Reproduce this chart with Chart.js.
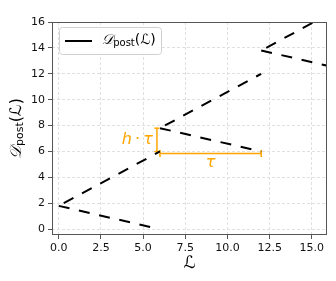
<!DOCTYPE html>
<html>
<head>
<meta charset="utf-8">
<script src="https://cdn.jsdelivr.net/npm/chart.js@4.4.0/dist/chart.umd.min.js"></script>
<style>
  html, body { margin: 0; padding: 0; background: #fff; }
  canvas { display: block; }
</style>
</head>
<body>
<canvas id="chart" width="336" height="281"></canvas>
<script>
// 各区間の始点（ジャンプ直後）
const startX = [0, 6, 12];
const startY = [1.8, 7.8, 13.8];
// 上昇する破線の終点
const riseEndX = [6, 12, 16];
const riseEndY = [6.0, 12.0, 16.6];
// 下降する破線の終点
const fallEndX = [5.42, 12, 16];
const fallEndY = [0.17, 6.0, 12.6];
// 注釈 h·τ（縦）と τ（横）
const hTauX = [5.82, 5.82];
const hTauY = [6.0, 7.8];
const tauX = [6, 12];
const tauY = [5.85, 5.85];

const xTicks = [0, 2.5, 5, 7.5, 10, 12.5, 15];
const yTicks = [0, 2, 4, 6, 8, 10, 12, 14, 16];

const ORANGE = '#FFA500';
const SANS = '"DejaVu Sans", sans-serif';

const datasets = [];
for (let i = 0; i < startX.length; i++) {
    // 下降線
    datasets.push({
        data: [{x: startX[i], y: startY[i]}, {x: fallEndX[i], y: fallEndY[i]}],
        borderColor: '#000', borderWidth: 2, borderDash: [11, 9.7], borderDashOffset: 0,
        pointRadius: 0, fill: false
    });
    // 上昇線
    datasets.push({
        data: [{x: startX[i], y: startY[i]}, {x: riseEndX[i], y: riseEndY[i]}],
        borderColor: '#000', borderWidth: 2, borderDash: [11, 9.7], borderDashOffset: 15,
        pointRadius: 0, fill: false
    });
}
datasets.push({
    data: hTauX.map((x, i) => ({x: x, y: hTauY[i]})),
    borderColor: ORANGE, borderWidth: 1.5,
    pointStyle: 'line', pointRotation: 0, pointRadius: 2.5,
    pointBorderColor: ORANGE, pointBorderWidth: 1.5
});
datasets.push({
    data: tauX.map((x, i) => ({x: x, y: tauY[i]})),
    borderColor: ORANGE, borderWidth: 1.5,
    pointStyle: 'line', pointRotation: 90, pointRadius: 3.5,
    pointBorderColor: ORANGE, pointBorderWidth: 1.5
});

// 添字付きの数式テキストを中央揃えで描く
function drawParts(ctx, parts, x, y) {
    let w = 0;
    parts.forEach(p => { ctx.font = p.font; w += ctx.measureText(p.t).width; });
    let cx = x - w / 2;
    parts.forEach(p => {
        ctx.font = p.font;
        ctx.fillText(p.t, cx, y + (p.dy || 0));
        cx += ctx.measureText(p.t).width;
    });
    return w;
}

function dpostParts(size) {
    return [
        {t: '𝒟', font: 'italic ' + size + 'px ' + SANS},
        {t: 'post', font: Math.round(size * 0.7) + 'px ' + SANS, dy: size * 0.22},
        {t: '(ℒ)', font: size + 'px ' + SANS}
    ];
}

const decorPlugin = {
    id: 'decor',
    afterDatasetsDraw(chart) {
        const ctx = chart.ctx;
        const a = chart.chartArea;
        const xs = chart.scales.x, ys = chart.scales.y;
        ctx.save();
        // 枠線
        ctx.strokeStyle = '#555';
        ctx.lineWidth = 1;
        ctx.strokeRect(a.left + 0.5, a.top + 0.5, a.right - a.left - 1, a.bottom - a.top - 1);

        // 注釈テキスト
        ctx.fillStyle = ORANGE;
        ctx.textBaseline = 'middle';
        ctx.textAlign = 'left';
        const hp = [
            {t: 'h', font: 'italic 16px ' + SANS},
            {t: '\u2009·\u2009', font: '16px ' + SANS},
            {t: 'τ', font: 'italic 16px ' + SANS}
        ];
        let hw = 0;
        hp.forEach(p => { ctx.font = p.font; hw += ctx.measureText(p.t).width; });
        const hx = xs.getPixelForValue(hTauX[0]) - 4;
        const hy = ys.getPixelForValue((hTauY[0] + hTauY[1]) / 2);
        drawParts(ctx, hp, hx - hw / 2, hy);
        drawParts(ctx, [{t: 'τ', font: 'italic 16px ' + SANS}],
            xs.getPixelForValue((tauX[0] + tauX[1]) / 2), ys.getPixelForValue(tauY[0]) + 9);

        // 凡例
        ctx.fillStyle = 'rgba(255,255,255,0.85)';
        ctx.strokeStyle = '#d0d0d0';
        ctx.lineWidth = 1;
        ctx.beginPath();
        ctx.roundRect(59.5, 27.5, 102, 27, 3);
        ctx.fill();
        ctx.stroke();
        ctx.strokeStyle = '#000';
        ctx.lineWidth = 2;
        ctx.beginPath();
        ctx.moveTo(65, 41);
        ctx.lineTo(92, 41);
        ctx.stroke();
        ctx.fillStyle = '#000';
        drawParts(ctx, dpostParts(14), 129, 40);

        // 軸タイトル
        drawParts(ctx, [{t: 'ℒ', font: 'italic 17px ' + SANS}], (a.left + a.right) / 2, 264);
        ctx.translate(17, (a.top + a.bottom) / 2);
        ctx.rotate(-Math.PI / 2);
        drawParts(ctx, dpostParts(16), 0, 0);
        ctx.restore();
    }
};

new Chart(document.getElementById('chart'), {
    type: 'line',
    data: { datasets: datasets },
    options: {
        responsive: false,
        animation: false,
        devicePixelRatio: 1,
        layout: { padding: { top: 22, right: 9, left: 0, bottom: 0 } },
        plugins: { legend: { display: false }, tooltip: { enabled: false } },
        elements: { line: { tension: 0 } },
        scales: {
            x: {
                type: 'linear', min: -0.4, max: 15.9,
                afterBuildTicks: s => { s.ticks = xTicks.map(v => ({value: v})); },
                afterFit: s => { s.height = 46; },
                grid: { color: '#e0e0e0', tickLength: 4, tickColor: '#555' },
                border: { display: false, dash: [3, 2] },
                ticks: { color: '#111', font: { family: SANS, size: 11 }, padding: 3,
                         maxRotation: 0, autoSkip: false,
                         callback: v => v.toFixed(1) }
            },
            y: {
                type: 'linear', min: -0.45, max: 16,
                afterBuildTicks: s => { s.ticks = yTicks.map(v => ({value: v})); },
                afterFit: s => { s.width = 52; },
                grid: { color: '#e0e0e0', tickLength: 4, tickColor: '#555' },
                border: { display: false, dash: [3, 2] },
                ticks: { color: '#111', font: { family: SANS, size: 11 }, padding: 3,
                         autoSkip: false, callback: v => String(v) }
            }
        }
    },
    plugins: [decorPlugin]
});
</script>
</body>
</html>
